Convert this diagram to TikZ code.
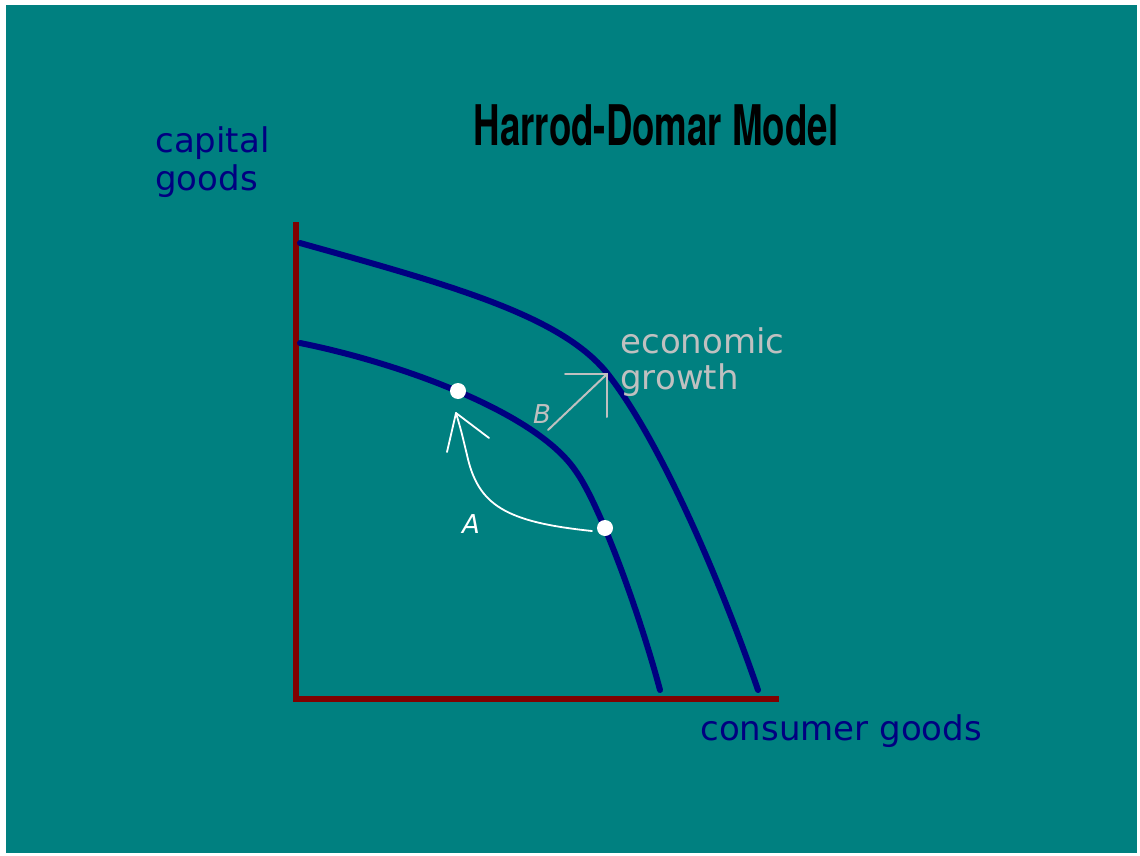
\documentclass[tikz,border=0pt]{standalone}
\usepackage{fontspec}
\usepackage{graphicx}
\setmainfont{DejaVu Sans}
\newfontfamily\headfont{TeX Gyre Heros}
\definecolor{bgteal}{HTML}{008080}
\definecolor{ppfnavy}{HTML}{000080}
\definecolor{axismaroon}{HTML}{800000}
\definecolor{labelsilver}{HTML}{C0C0C0}
\tikzset{
  axisline/.style={draw=axismaroon, line width=3pt},
  ppfcurve/.style={draw=ppfnavy, line width=3pt, line cap=round},
  pointdot/.style={circle, fill=white, inner sep=0pt, minimum size=8pt},
  axislabel/.style={text=ppfnavy, font=\fontsize{17}{20}\selectfont, inner sep=0pt, anchor=base west},
  growthlabel/.style={text=labelsilver, font=\fontsize{17}{20}\selectfont, inner sep=0pt, anchor=base west},
  movearrow/.style={draw=white, line width=0.9pt, line cap=round, line join=round},
  shiftarrow/.style={draw=labelsilver, line width=1pt, line cap=round},
  pointlabel/.style={font=\fontsize{13}{15}\selectfont\itshape, inner sep=0pt}
}
\begin{document}
\begin{tikzpicture}[x=0.5pt, y=-0.5pt]
  \useasboundingbox (0,0) rectangle (1140,856);
  \fill[white] (0,0) rectangle (1140,856);
  \fill[bgteal] (6,5) rectangle (1137,853);

  % title
  \node (title) at (656,125)
    {\headfont\bfseries\fontsize{28}{30}\selectfont\scalebox{0.655}[1]{Harrod-Domar Model}};

  % axes
  \coordinate (origin) at (296,699);
  \coordinate (ytop) at (296,222);
  \coordinate (xend) at (779,699);
  \draw[axisline] (ytop) -- (origin) -- (xend);

  % axis labels
  \node[axislabel] (caplab1) at (155,152) {capital};
  \node[axislabel] (caplab2) at (155,191) {goods};
  \node[axislabel] (conslab) at (700,740) {consumer goods};

  % production possibility frontiers
  \draw[ppfcurve] (300,243) .. controls (450,285) and (560,315) .. (607,373)
    .. controls (660,440) and (720,580) .. (758,690);
  \draw[ppfcurve] (300,343) .. controls (400,363) and (535,412) .. (575,470)
    .. controls (600,504) and (640,615) .. (660,690);

  % points on the inner frontier
  \node[pointdot] (ptB) at (458,391) {};
  \node[pointdot] (ptA) at (605,528) {};

  % movement A along the frontier
  \coordinate (aStart) at (592,531);
  \coordinate (aTip) at (456,413);
  \coordinate (aHeadL) at (447,452);
  \coordinate (aHeadR) at (489,438);
  \draw[movearrow] (aStart) .. controls (505,522) and (478,505) .. (467,455)
    .. controls (461,430) .. (aTip);
  \draw[movearrow] (aHeadL) -- (aTip) -- (aHeadR);
  \node[pointlabel, text=white] (labA) at (471,524) {A};

  % outward shift B
  \coordinate (bStart) at (548,430);
  \coordinate (bTip) at (607,374);
  \coordinate (bHeadL) at (565,374);
  \coordinate (bHeadD) at (607,417);
  \draw[shiftarrow] (bStart) -- (bTip);
  \draw[shiftarrow] (bHeadL) -- (bTip) -- (bHeadD);
  \node[pointlabel, text=labelsilver] (labB) at (542,414) {B};

  \node[growthlabel] (growlab1) at (620,353) {economic};
  \node[growthlabel] (growlab2) at (620,389) {growth};
\end{tikzpicture}
\end{document}
